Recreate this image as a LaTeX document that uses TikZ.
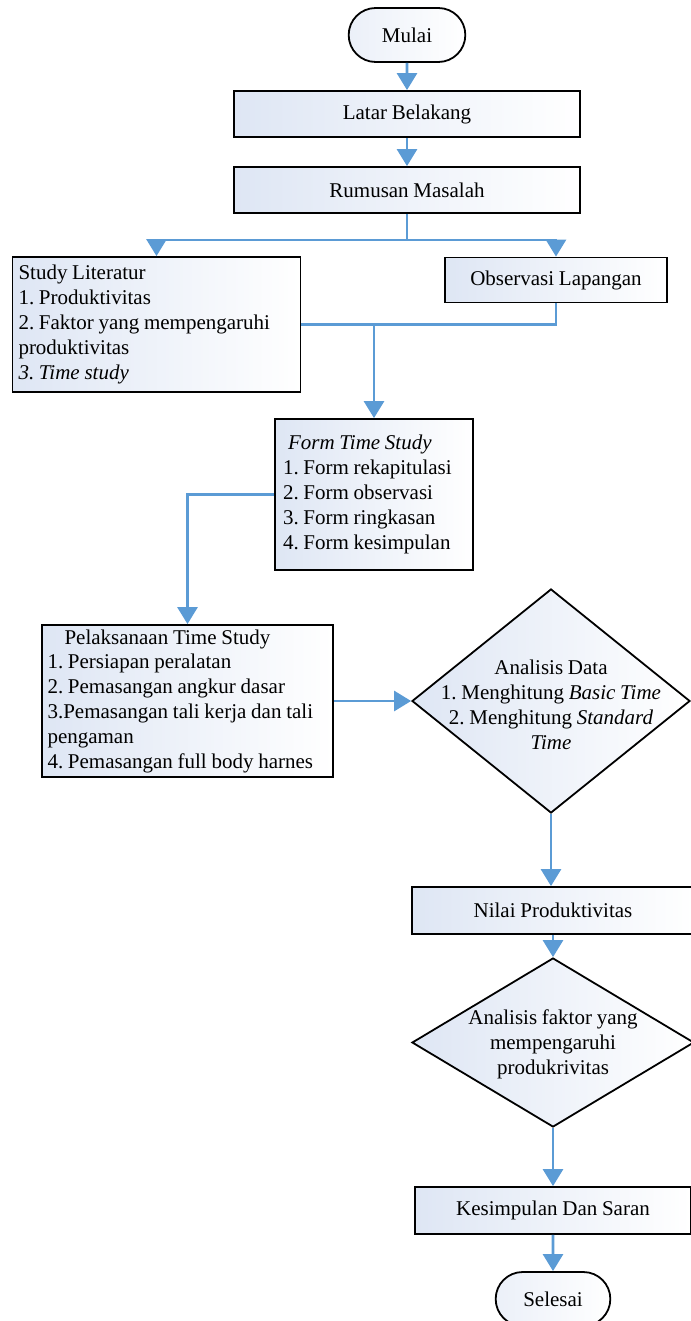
\documentclass[tikz,border=0pt]{standalone}
\usepackage{fontspec}
\setmainfont{Liberation Serif}[WordSpace=0.9]
\usepackage{tikz}
\usetikzlibrary{shapes, shapes.geometric, shapes.misc, positioning, arrows.meta}

\definecolor{flowblue}{RGB}{91,155,213}
\definecolor{boxtint}{RGB}{222,230,244}

\begin{document}
\frenchspacing
\begin{tikzpicture}[x=0.5pt, y=-0.5pt, font=\fontsize{10.5}{12.4}\selectfont]
\tikzset{
  flow/.style={draw=flowblue, line width=1.4pt, -{Triangle[width=10pt,length=8.5pt]}},
  flowline/.style={draw=flowblue, line width=1.4pt},
  box/.style={draw, line width=0.9pt, rectangle, inner sep=3pt, left color=boxtint, right color=white},
  terminal/.style={draw, line width=0.9pt, rounded rectangle, minimum width=65pt, minimum height=27pt, left color=boxtint!60!white, right color=white},
  decision/.style={draw, line width=0.9pt, diamond, inner sep=0pt, left color=boxtint, right color=white}
}
\useasboundingbox (0,0) rectangle (690,1321);

\node[terminal] (mulai) at (407,35) {Mulai};
\node[box, minimum width=173pt, minimum height=23pt] (latar) at (407,114) {Latar Belakang};
\node[box, minimum width=173pt, minimum height=23pt] (rumusan) at (407,190) {Rumusan Masalah};

\node[box, text width=138pt, minimum height=67.5pt, align=flush left] (studi) at (156.5,324.5)
  {Study Literatur\\1. Produktivitas\\2. Faktor yang mempengaruhi\\produktivitas\\\textit{3. Time study}};
\node[box, minimum width=111pt, minimum height=22.5pt] (observasi) at (556,280) {Observasi Lapangan};

\node[box, text width=91pt, inner xsep=4pt, minimum height=75.5pt, align=flush left] (form) at (374,494.5)
  {\hspace{2.5pt}\textit{Form Time Study}\\1. Form rekapitulasi\\2. Form observasi\\3. Form ringkasan\\4. Form kesimpulan};

\node[box, text width=140pt, inner xsep=2.75pt, inner ysep=1pt, minimum height=76pt, align=flush left] (laksana) at (187.5,701)
  {\hspace{8.5pt}Pelaksanaan Time Study\\1. Persiapan peralatan\\2. Pemasangan angkur dasar\\3.Pemasangan tali kerja dan tali\\pengaman\\4. Pemasangan full body harnes};

\node[decision, minimum width=139pt, minimum height=112pt,
  label={[align=center, yshift=-2pt]center:Analisis Data\\1. Menghitung \textit{Basic Time}\\2. Menghitung \textit{Standard}\\\textit{Time}}]
  (analisis) at (551,701) {};

\node[box, minimum width=141pt, minimum height=23.5pt] (nilai) at (553,910.5) {Nilai Produktivitas};

\node[decision, minimum width=141pt, minimum height=84.5pt,
  label={[align=center, yshift=-1pt]center:Analisis faktor yang\\mempengaruhi\\produkrivitas}]
  (faktor) at (553,1042.5) {};

\node[box, minimum width=138pt, minimum height=23.5pt] (kesimpulan) at (553,1210.5) {Kesimpulan Dan Saran};
\node[terminal, minimum width=64pt] (selesai) at (553,1299) {Selesai};

% alur utama
\coordinate (split) at (407,240);
\coordinate (merge) at (form.north |- studi.east);

\draw[flow] (mulai) -- (latar);
\draw[flow] (latar) -- (rumusan);
\draw[flow] (rumusan.south) -- (split) -| (studi.north);
\draw[flow] (split) -| (observasi.north);
\draw[flowline] (observasi.south) |- (merge);
\draw[flow] (studi.east) -- (merge) -- (form.north);
\draw[flow] (form.west) -| (laksana.north);
\draw[flow] (laksana.east) -- (analisis.west);
\draw[flow] (analisis.south) -- (analisis.south |- nilai.north);
\draw[flow] (nilai) -- (faktor);
\draw[flow] (faktor) -- (kesimpulan);
\draw[flow] (kesimpulan) -- (selesai);

\end{tikzpicture}
\end{document}
